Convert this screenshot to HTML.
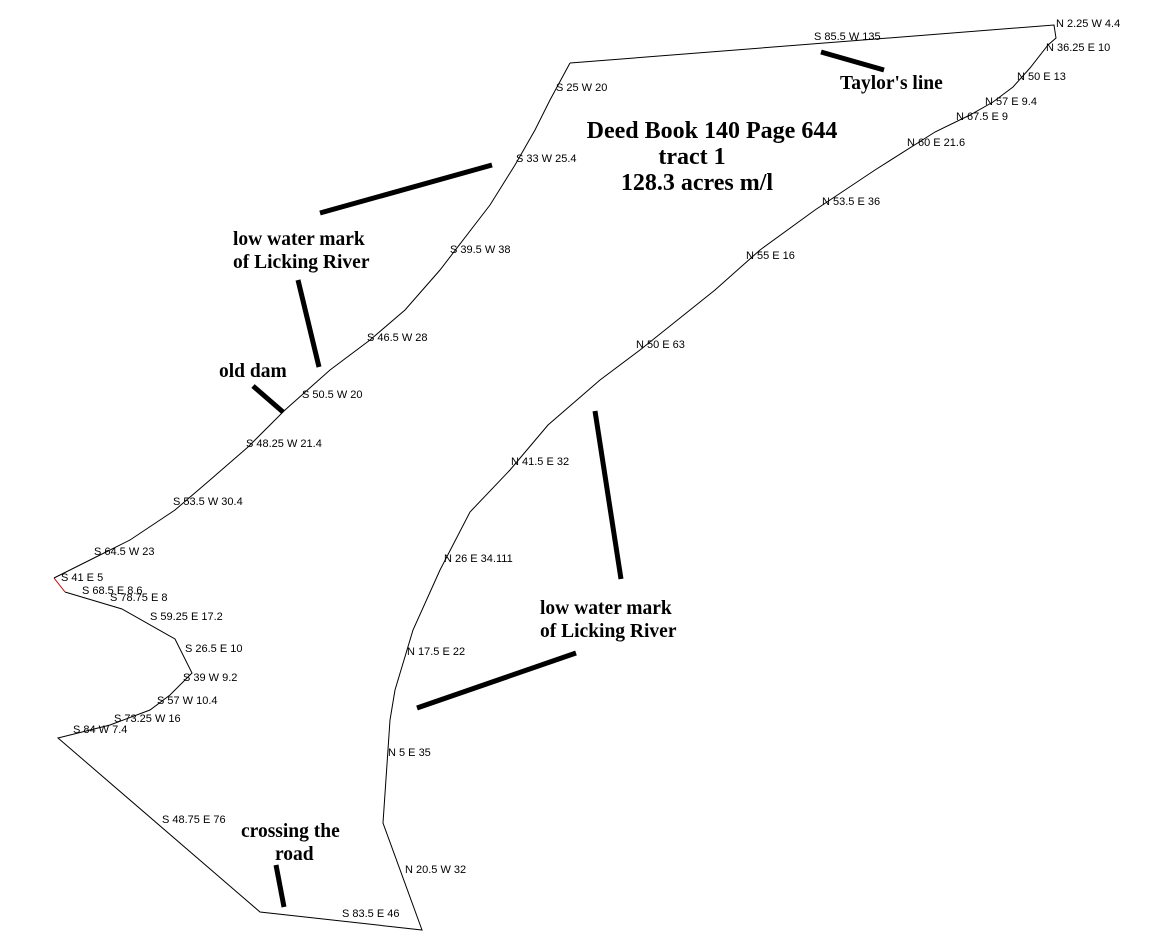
<!DOCTYPE html>
<html><head><style>
body{margin:0;background:#fff;}
svg{display:block}
.s{font-family:"Liberation Sans",sans-serif;font-size:11px;fill:#000}
.b{font-family:"Liberation Serif",serif;font-weight:bold;font-size:19.5px;fill:#000}
.t{font-family:"Liberation Serif",serif;font-weight:bold;font-size:24px;fill:#000}
</style></head><body>
<svg width="1161" height="942" viewBox="0 0 1161 942">
<polyline fill="none" stroke="#000" stroke-width="1" points="570,63 1054,25 1056,38 1048,45 1030,68 1013,87 993,102 970,115 935,132 875,170 815,210 760,250 715,290 640,350 600,380 548,425 510,470 470,512 440,570 413,630 395,690 390,720 383,823 422,930 260,912 58,738 110,725 150,710 170,695 192,673 175,639 122,609 65,592"/>
<polyline fill="none" stroke="#b00" stroke-width="1" points="65,592 54,578"/>
<polyline fill="none" stroke="#000" stroke-width="1" points="54,578 100,555 130,540 175,510 210,480 248,447 285,410 330,370 370,340 405,310 440,270 490,205 515,165 535,130 550,100 570,63"/>
<g stroke="#000" stroke-width="5" stroke-linecap="butt">
<line x1="821" y1="52" x2="884" y2="70"/>
<line x1="320" y1="213" x2="492" y2="165"/>
<line x1="298" y1="280" x2="319" y2="367"/>
<line x1="253" y1="386" x2="283" y2="412"/>
<line x1="595" y1="411" x2="621" y2="579"/>
<line x1="417" y1="708" x2="576" y2="653"/>
<line x1="276" y1="865" x2="284" y2="907"/>
</g>
<g class="s">
<text x="814" y="40">S 85.5 W 135</text>
<text x="1056" y="27">N 2.25 W 4.4</text>
<text x="1046" y="51">N 36.25 E 10</text>
<text x="1017" y="80">N 50 E 13</text>
<text x="985" y="105">N 57 E 9.4</text>
<text x="956" y="120">N 67.5 E 9</text>
<text x="907" y="146">N 60 E 21.6</text>
<text x="822" y="205">N 53.5 E 36</text>
<text x="746" y="259">N 55 E 16</text>
<text x="636" y="348">N 50 E 63</text>
<text x="511" y="465">N 41.5 E 32</text>
<text x="444" y="562">N 26 E 34.111</text>
<text x="407" y="655">N 17.5 E 22</text>
<text x="388" y="756">N 5 E 35</text>
<text x="405" y="873">N 20.5 W 32</text>
<text x="342" y="917">S 83.5 E 46</text>
<text x="162" y="823">S 48.75 E 76</text>
<text x="556" y="91">S 25 W 20</text>
<text x="516" y="162">S 33 W 25.4</text>
<text x="450" y="253">S 39.5 W 38</text>
<text x="367" y="341">S 46.5 W 28</text>
<text x="302" y="398">S 50.5 W 20</text>
<text x="246" y="447">S 48.25 W 21.4</text>
<text x="173" y="505">S 53.5 W 30.4</text>
<text x="94" y="555">S 64.5 W 23</text>
<text x="61" y="581">S 41 E 5</text>
<text x="82" y="594">S 68.5 E 8.6</text>
<text x="110" y="601">S 78.75 E 8</text>
<text x="150" y="620">S 59.25 E 17.2</text>
<text x="185" y="652">S 26.5 E 10</text>
<text x="183" y="681">S 39 W 9.2</text>
<text x="157" y="704">S 57 W 10.4</text>
<text x="114" y="722">S 73.25 W 16</text>
<text x="73" y="733">S 84 W 7.4</text>
</g>
<g class="t" text-anchor="middle">
<text x="712" y="138">Deed Book 140 Page 644</text>
<text x="692" y="164">tract 1</text>
<text x="697" y="190">128.3 acres m/l</text>
</g>
<g class="b">
<text x="840" y="89">Taylor's line</text>
<text x="233" y="245">low water mark</text>
<text x="233" y="268">of Licking River</text>
<text x="219" y="377">old dam</text>
<text x="540" y="614">low water mark</text>
<text x="540" y="637">of Licking River</text>
<text x="241" y="837">crossing the</text>
<text x="275" y="860">road</text>
</g>
</svg>
</body></html>
